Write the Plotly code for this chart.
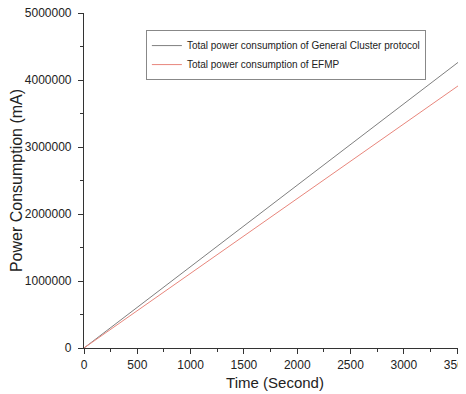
import plotly.graph_objects as go

time_s = [0, 600, 1200, 1800, 2400, 3000, 3600]
general_cluster = [0, 729000, 1458000, 2187000, 2916000, 3645000, 4374000]
efmp = [0, 669000, 1338000, 2007000, 2676000, 3345000, 4014000]

fig = go.Figure()
fig.add_trace(go.Scatter(x=time_s, y=general_cluster, mode="lines",
                         name="Total power consumption of General Cluster protocol",
                         line=dict(color="#7f7f7f", width=1)))
fig.add_trace(go.Scatter(x=time_s, y=efmp, mode="lines",
                         name="Total power consumption of EFMP",
                         line=dict(color="#e8867c", width=1)))

axis_common = dict(showline=True, linecolor="#333333", linewidth=1.2,
                   ticks="outside", ticklen=5, tickcolor="#333333",
                   showgrid=False, zeroline=False, automargin=False,
                   ticklabeloverflow="allow",
                   tickfont=dict(family="Liberation Sans", size=12, color="#222222"))

# page body has an 8px default margin, so the figure is offset by 8px;
# the figure runs past the right edge of the window like the cropped reference
fig.update_layout(
    width=474, height=386,
    margin=dict(l=76, r=16, t=5, b=46),
    paper_bgcolor="white", plot_bgcolor="white",
    showlegend=True,
    legend=dict(x=0.162, y=0.949, xanchor="left", yanchor="top",
                bordercolor="#888888", borderwidth=1,
                font=dict(family="Liberation Sans", size=10, color="#222222"),
                itemwidth=30, tracegroupgap=0),
    xaxis=dict(range=[0, 3583], tickvals=[0, 500, 1000, 1500, 2000, 2500, 3000, 3500],
               minor=dict(dtick=250, ticks="outside", ticklen=3, tickcolor="#333333"),
               title=dict(text="Time (Second)", font=dict(family="Liberation Sans", size=15, color="#222222"),
                          standoff=6),
               **axis_common),
    yaxis=dict(range=[0, 5000000], tickvals=[0, 1000000, 2000000, 3000000, 4000000, 5000000],
               tickformat="d", ticklabelstandoff=4,
               minor=dict(dtick=500000, ticks="outside", ticklen=3, tickcolor="#333333"),
               title=dict(text="Power Consumption (mA)", font=dict(family="Liberation Sans", size=16, color="#222222"),
                          standoff=2),
               **axis_common),
)

fig.write_html("out.html")
